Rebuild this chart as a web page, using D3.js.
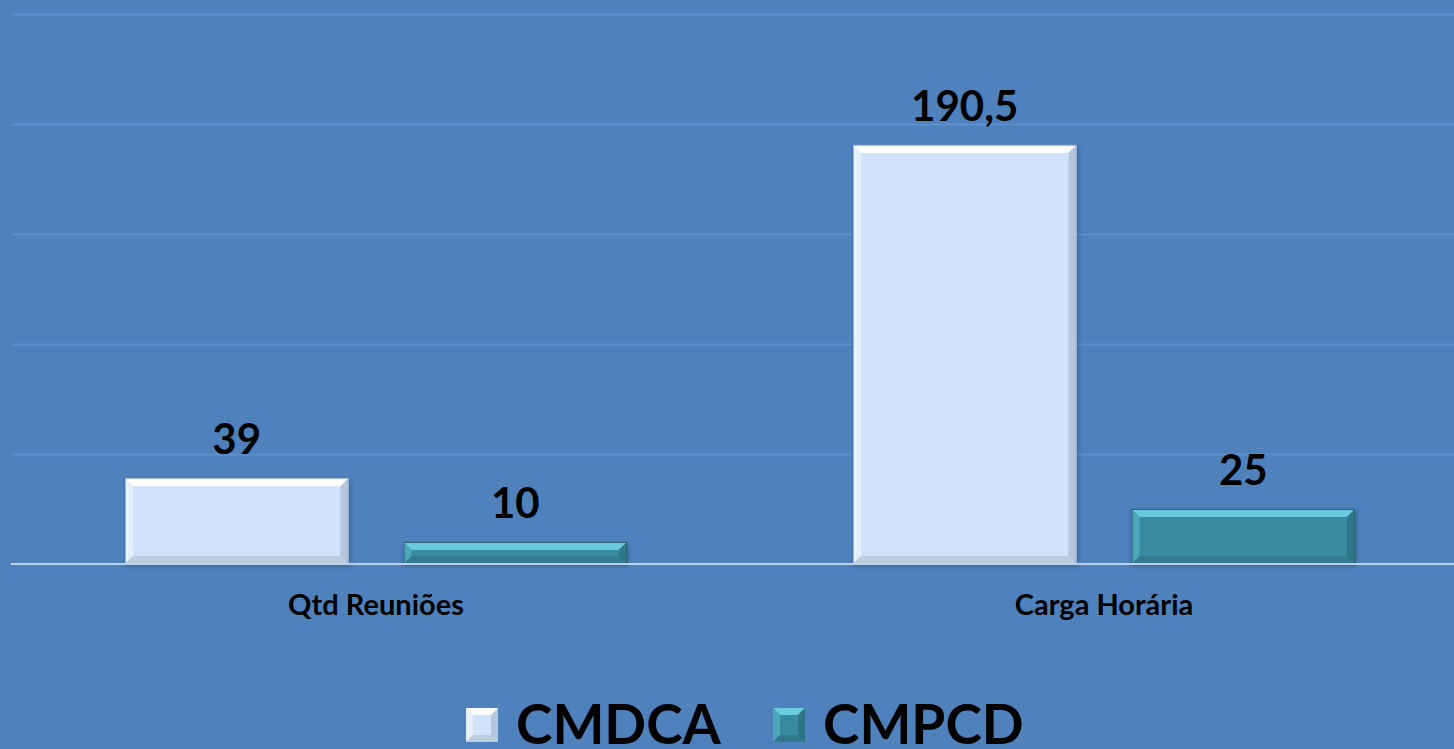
<!DOCTYPE html>
<html><head><meta charset="utf-8">
<script src="https://cdn.jsdelivr.net/npm/d3@7"></script>
<style>html,body{margin:0;padding:0;background:#4f81bd;overflow:hidden}</style>
</head><body>
<svg id="c" width="1454" height="749"></svg>
<script>
const categories = ["Qtd Reuniões", "Carga Horária"];
const series = ["CMDCA", "CMPCD"];
const cmdca = [39, 190.5];
const cmpcd = [10, 25];
const valueLabels = [["39", "190,5"], ["10", "25"]];
const yTicks = [0, 50, 100, 150, 200, 250];

const values = [cmdca, cmpcd];
const styles = {
  CMDCA: {fill: "#d0e3fb", top: "#ffffff", left: "#e6f0fd", right: "#b4c7df", bottom: "#bccde2", edge: "#9fb3cc"},
  CMPCD: {fill: "#388a9f", top: "#6bcbe0", left: "#4ea6bb", right: "#2e7487", bottom: "#317a8c", edge: "#2a6272"}
};

const svg = d3.select("#c");
const font = "Lato, 'Open Sans', 'DejaVu Sans', sans-serif";
const baseY = 564;
const y = d3.scaleLinear().domain([0, 250]).range([baseY, 14]);
const x0 = d3.scaleBand().domain(categories).range([12, 1468]);
const x1 = d3.scaleBand().domain(series).range([113, 615]).paddingInner(55 / 278);

const defs = svg.append("defs");
const f = defs.append("filter").attr("id", "sh").attr("x", "-10%").attr("y", "-10%").attr("width", "120%").attr("height", "130%");
f.append("feDropShadow").attr("dx", 1).attr("dy", 2).attr("stdDeviation", 2).attr("flood-color", "#1a3150").attr("flood-opacity", 0.45);

// gridlines
svg.append("g").selectAll("line").data(yTicks.filter(d => d > 0)).join("line")
  .attr("x1", 11).attr("x2", 1454)
  .attr("y1", d => Math.round(y(d)) + 0.5).attr("y2", d => Math.round(y(d)) + 0.5)
  .attr("stroke", "#5d8fcc").attr("stroke-width", 2);

const pts = (arr) => arr.map(p => p.join(",")).join(" ");
function bevelBox(g, bx, by, bw, bh, b, st) {
  g.append("rect").attr("x", bx).attr("y", by).attr("width", bw).attr("height", bh).attr("fill", st.fill);
  g.append("polygon").attr("points", pts([[bx, by], [bx + bw, by], [bx + bw - b, by + b], [bx + b, by + b]])).attr("fill", st.top);
  g.append("polygon").attr("points", pts([[bx, by], [bx + b, by + b], [bx + b, by + bh - b], [bx, by + bh]])).attr("fill", st.left);
  g.append("polygon").attr("points", pts([[bx + bw, by], [bx + bw, by + bh], [bx + bw - b, by + bh - b], [bx + bw - b, by + b]])).attr("fill", st.right);
  g.append("polygon").attr("points", pts([[bx, by + bh], [bx + b, by + bh - b], [bx + bw - b, by + bh - b], [bx + bw, by + bh]])).attr("fill", st.bottom);
}

// bars
series.forEach((s, si) => {
  categories.forEach((c, ci) => {
    const v = values[si][ci];
    const bx = x0(c) + x1(s), bw = x1.bandwidth();
    const by = y(v), bh = baseY - y(v);
    const st = styles[s];
    const g = svg.append("g").attr("filter", "url(#sh)");
    bevelBox(g, bx, by, bw, bh, Math.min(8, bh / 2), st);
    g.append("rect").attr("x", bx + 0.5).attr("y", by + 0.5).attr("width", bw - 1).attr("height", bh - 1).attr("fill", "none").attr("stroke", st.edge).attr("stroke-width", 1);
    svg.append("text").attr("x", bx + bw / 2).attr("y", by - 24).attr("text-anchor", "middle")
      .attr("font-family", font).attr("font-weight", 700).attr("font-size", 42).attr("fill", "#000")
      .text(valueLabels[si][ci]);
  });
});

// baseline
svg.append("line").attr("x1", 11).attr("x2", 1454).attr("y1", baseY).attr("y2", baseY)
  .attr("stroke", "#bcd0ea").attr("stroke-width", 2);

// category labels
const xAxis = d3.axisBottom(x0).tickSize(0).tickPadding(0);
const ax = svg.append("g").attr("transform", `translate(0,${baseY})`).call(xAxis);
ax.select(".domain").remove();
ax.selectAll("text").attr("y", 51).attr("dy", null).attr("font-family", font).attr("font-weight", 700)
  .attr("font-size", 29).attr("fill", "#000");

// legend
const legend = [{s: "CMDCA", x: 466}, {s: "CMPCD", x: 773}];
legend.forEach(l => {
  const st = styles[l.s];
  const g = svg.append("g");
  bevelBox(g, l.x, 708, 32, 34, 7, st);
  svg.append("text").attr("x", l.x + 50).attr("y", 744).attr("font-family", font).attr("font-weight", 700)
    .attr("font-size", 55).attr("fill", "#000").text(l.s);
});
</script>
</body></html>
